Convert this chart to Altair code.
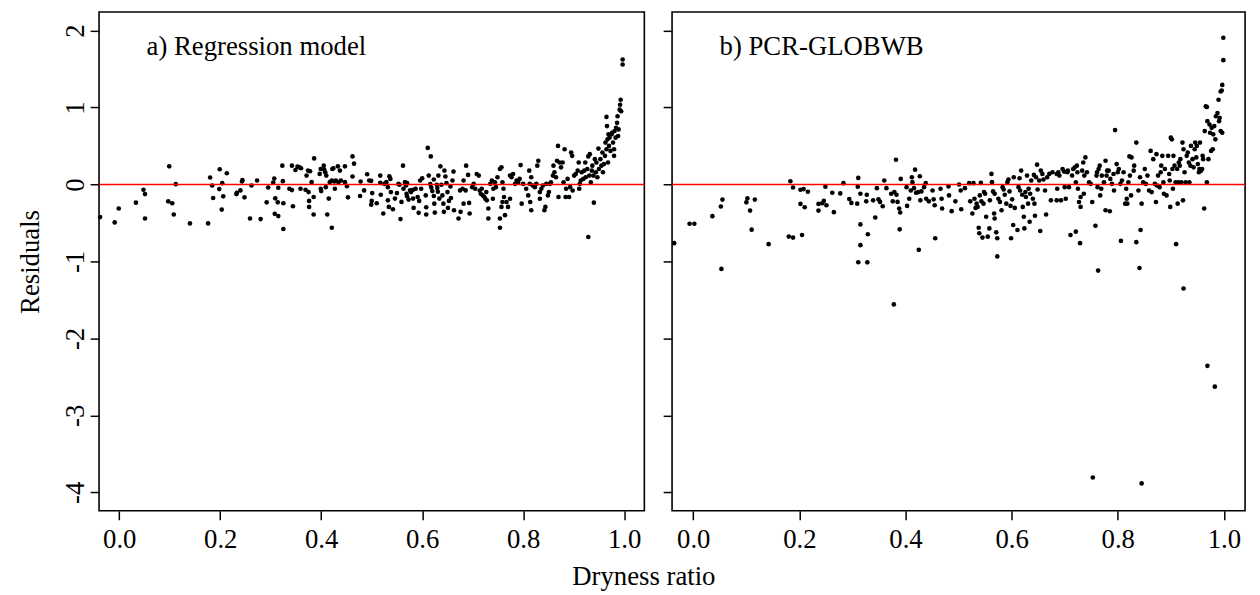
import altair as alt
import pandas as pd

FONT = "Liberation Serif"

# ---- Panel a) Regression model: (dryness ratio, residual) ----
reg_left = [[-0.038,-0.424],[-0.009,-0.493],[-0.001,-0.313],[0.033,-0.236],[0.048,-0.069],[0.051,-0.125],
    [0.051,-0.442],[0.099,0.235],[0.112,0.004],[0.097,-0.219],[0.105,-0.244],[0.108,-0.390],[0.140,-0.506],
    [0.176,-0.506],[0.180,0.090],[0.184,-0.013],[0.186,-0.176],[0.199,0.197],[0.198,-0.060],[0.204,0.017],
    [0.206,-0.154],[0.203,-0.326],[0.213,0.145],[0.232,-0.125],[0.233,-0.107],[0.240,-0.077],[0.243,0.038],
    [0.244,0.056],[0.248,-0.167],[0.259,-0.442],[0.262,-0.013],[0.273,0.051],[0.280,-0.450],[0.292,-0.232],
    [0.295,-0.039],[0.305,0.026],[0.307,0.077],[0.309,-0.180],[0.315,-0.043],[0.314,-0.232],[0.308,-0.382],
    [0.315,-0.411],[0.323,0.244],[0.324,0.043],[0.325,-0.244],[0.325,-0.578]]

reg_mid = [[0.342,0.244],[0.344,-0.283],[0.337,-0.056],[0.342,-0.073],[0.349,0.188],[0.353,0.231],[0.357,0.222],
    [0.360,0.210],[0.359,-0.056],[0.371,0.115],[0.369,-0.069],[0.375,-0.099],[0.374,0.180],[0.378,0.171],
    [0.376,-0.214],[0.376,-0.292],[0.381,0.030],[0.385,-0.163],[0.385,-0.390],[0.386,0.338],[0.397,0.137],
    [0.399,0.201],[0.399,-0.056],[0.400,-0.086],[0.405,0.244],[0.406,0.192],[0.408,0.158],[0.410,0.115],
    [0.409,-0.035],[0.412,-0.390],[0.415,-0.184],[0.417,0.030],[0.421,0.051],[0.422,0.201],[0.424,0.210],
    [0.421,-0.562],[0.426,0.038],[0.427,-0.056],[0.429,0.051],[0.433,0.235],[0.434,0.030],[0.437,0.180],
    [0.439,0.051],[0.447,0.235],[0.447,0.030],[0.451,-0.022],[0.453,-0.167],[0.462,0.364],[0.465,0.270],
    [0.462,0.103],[0.477,-0.150],[0.478,0.038],[0.485,-0.077],[0.491,0.132],[0.495,0.051],[0.499,0.047],
    [0.501,-0.112],[0.500,-0.214],[0.499,-0.262],[0.510,-0.244],[0.517,0.115],[0.517,0.021],[0.518,-0.133],
    [0.523,-0.377],[0.525,0.008],[0.529,0.030],[0.532,-0.206],[0.532,-0.035],[0.535,0.107],[0.537,0.072],
    [0.538,-0.099],[0.542,-0.322],[0.534,-0.292],[0.546,-0.184],[0.550,-0.112],[0.553,0.008],[0.555,-0.004],
    [0.557,-0.450],[0.559,-0.227],[0.562,0.244],[0.563,-0.056],[0.566,0.030],[0.568,-0.013],[0.569,-0.120],
    [0.570,0.017],[0.570,-0.154],[0.573,-0.197],[0.576,-0.077],[0.578,-0.099],[0.582,-0.184],[0.582,-0.069],
    [0.583,-0.305],[0.587,-0.056],[0.591,-0.163],[0.593,-0.369],[0.594,-0.214],[0.596,0.051],[0.598,-0.056],
    [0.600,0.081],[0.607,-0.142],[0.608,-0.296],[0.608,-0.390],[0.611,0.475],[0.617,0.364],[0.613,0.115],
    [0.616,0.004],[0.618,-0.039],[0.620,-0.086],[0.623,0.064],[0.623,-0.150],[0.624,-0.249],[0.625,-0.365],
    [0.629,-0.004],[0.630,-0.047],[0.631,-0.095],[0.632,0.115],[0.634,-0.184],[0.636,0.235],[0.638,-0.004],
    [0.640,-0.142],[0.642,-0.249],[0.643,-0.356],[0.644,0.180],[0.646,0.103],[0.648,0.017],[0.650,-0.099],
    [0.651,-0.305],[0.653,-0.214],[0.656,-0.026],[0.657,-0.176],[0.660,0.051],[0.662,0.167],[0.663,-0.335],
    [0.672,-0.442],[0.675,-0.077],[0.676,-0.356],[0.680,-0.056],[0.682,-0.249],[0.682,0.051],[0.686,-0.077],
    [0.687,0.244],[0.691,0.124],[0.693,-0.240],[0.694,-0.377]]

reg_right = [[0.699,-0.035],[0.702,0.008],[0.705,-0.056],[0.708,0.136],[0.712,0.115],[0.714,-0.078],
    [0.716,-0.121],[0.718,-0.056],[0.720,-0.142],[0.723,-0.163],[0.725,-0.185],[0.727,-0.099],[0.728,-0.206],
    [0.731,-0.313],[0.731,-0.442],[0.735,0.008],[0.738,0.051],[0.740,-0.185],[0.741,-0.056],[0.744,0.029],
    [0.746,-0.035],[0.749,0.094],[0.754,0.201],[0.757,0.222],[0.759,0.029],[0.761,-0.056],[0.762,-0.163],
    [0.759,-0.228],[0.757,-0.292],[0.754,-0.442],[0.754,-0.562],[0.764,-0.399],[0.767,-0.228],[0.770,-0.292],
    [0.774,-0.185],[0.774,0.115],[0.777,0.094],[0.780,0.136],[0.784,0.008],[0.787,0.051],[0.790,0.029],
    [0.793,0.072],[0.795,0.252],[0.797,-0.249],[0.800,0.008],[0.806,-0.056],[0.810,-0.142],[0.812,0.179],
    [0.813,0.008],[0.814,-0.228],[0.816,0.094],[0.816,-0.335],[0.819,-0.014],[0.823,-0.035],[0.826,0.008],
    [0.828,0.244],[0.830,0.308],[0.833,-0.185],[0.833,-0.099],[0.836,-0.056],[0.839,-0.014],[0.842,-0.335],
    [0.844,-0.292],[0.846,0.008],[0.849,-0.142],[0.851,-0.099],[0.853,0.008],[0.855,0.029],[0.859,0.115],
    [0.860,0.244],[0.862,0.158],[0.865,0.094],[0.867,0.308],[0.869,0.501],[0.870,-0.163],[0.872,0.286],
    [0.875,0.222],[0.878,0.286],[0.880,0.029],[0.882,0.458],[0.884,-0.163],[0.885,-0.056],[0.888,0.072],
    [0.891,-0.163],[0.893,-0.035],[0.895,0.415],[0.897,0.372],[0.898,-0.078],[0.901,0.115],[0.904,0.136],
    [0.908,0.179],[0.910,0.286],[0.911,-0.056],[0.912,0.008],[0.914,0.051],[0.916,0.158],[0.919,0.072],
    [0.921,0.179],[0.923,0.286],[0.924,0.094],[0.927,0.201],[0.929,0.364],[0.931,0.115],[0.932,0.394],
    [0.934,0.029],[0.936,0.179],[0.937,0.244],[0.939,0.115],[0.940,-0.236],[0.942,0.329],[0.944,0.158],
    [0.945,0.286],[0.947,0.094],[0.929,-0.682],[0.949,0.466],[0.950,0.201],[0.953,0.329],[0.955,0.244],
    [0.957,0.415],[0.958,0.158],[0.960,0.265],[0.962,0.372],[0.963,0.544],[0.965,0.458],[0.966,0.758],
    [0.965,0.878],[0.967,0.586],[0.968,0.286],[0.969,0.651],[0.970,0.501],[0.971,0.608],[0.973,0.436],
    [0.975,0.651],[0.976,0.672],[0.978,0.544],[0.980,0.372],[0.980,0.458],[0.981,0.693],[0.983,0.608],
    [0.984,0.736],[0.986,0.801],[0.987,0.886],[0.988,0.629],[0.989,0.715],[0.991,0.972],[0.992,1.036],
    [0.993,1.101],[0.994,0.951],[0.997,1.623],[0.997,1.559]]

# ---- Panel b) PCR-GLOBWB ----
pcr_left = [[-0.036,-0.763],[-0.007,-0.510],[0.002,-0.510],[0.036,-0.412],[0.052,-0.287],[0.055,-0.197],
    [0.053,-1.097],[0.100,-0.232],[0.102,-0.180],[0.107,-0.339],[0.110,-0.587],[0.116,-0.197],[0.142,-0.776],
    [0.180,-0.677],[0.188,-0.690],[0.183,0.042],[0.188,-0.039],[0.202,-0.069],[0.208,-0.060],[0.216,-0.095],
    [0.202,-0.253],[0.210,-0.296],[0.205,-0.656],[0.236,-0.253],[0.236,-0.339],[0.243,-0.244],[0.246,-0.214],
    [0.249,-0.030],[0.251,-0.270],[0.262,-0.108],[0.265,-0.360],[0.277,-0.116],[0.283,0.017],[0.294,-0.189],
    [0.298,-0.240],[0.309,-0.249],[0.311,0.085],[0.310,-0.030],[0.311,-1.011],[0.315,-0.120],[0.315,-0.519],
    [0.315,-0.789],[0.328,-1.012],[0.378,-1.558]]

pcr_mid = [[0.327,-0.133],[0.326,-0.219],[0.329,-0.647],[0.339,-0.206],[0.343,-0.429],[0.346,-0.048],
    [0.349,-0.193],[0.352,-0.227],[0.357,-0.283],[0.360,0.051],[0.364,-0.048],[0.373,-0.120],[0.376,-0.219],
    [0.379,-0.099],[0.382,0.321],[0.383,-0.133],[0.385,-0.227],[0.388,-0.313],[0.390,-0.364],[0.389,-0.583],
    [0.391,0.072],[0.402,-0.035],[0.403,-0.279],[0.407,-0.185],[0.410,-0.078],[0.412,0.094],[0.413,0.030],
    [0.416,-0.048],[0.418,0.192],[0.420,-0.108],[0.424,-0.099],[0.425,-0.849],[0.427,0.107],[0.428,-0.206],
    [0.430,-0.090],[0.435,-0.035],[0.438,0.017],[0.439,-0.185],[0.444,-0.219],[0.451,-0.078],[0.453,-0.193],
    [0.456,-0.699],[0.455,-0.270],[0.466,-0.056],[0.468,-0.185],[0.469,-0.313],[0.481,-0.026],[0.482,-0.142],
    [0.487,-0.347],[0.494,-0.219],[0.501,0.000],[0.504,-0.078],[0.505,-0.322],[0.512,-0.048],[0.520,0.017],
    [0.522,-0.219],[0.526,-0.377],[0.528,0.017],[0.530,-0.185],[0.532,-0.305],[0.534,-0.249],[0.536,-0.292],
    [0.538,-0.562],[0.539,-0.634],[0.540,-0.142],[0.542,0.021],[0.543,-0.219],[0.545,-0.690],[0.547,-0.249],
    [0.548,-0.099],[0.550,-0.120],[0.552,-0.420],[0.555,-0.678],[0.558,-0.571],[0.559,-0.206],[0.562,0.137],
    [0.563,0.030],[0.565,-0.090],[0.567,-0.377],[0.568,-0.442],[0.568,-0.120],[0.571,-0.622],[0.573,-0.699],
    [0.573,-0.935],[0.575,-0.185],[0.578,-0.227],[0.581,-0.335],[0.583,-0.035],[0.585,-0.065],[0.587,-0.133],
    [0.590,-0.249],[0.592,0.030],[0.594,0.064],[0.596,-0.090],[0.598,-0.279],[0.599,-0.699],[0.601,-0.193],
    [0.603,-0.527],[0.604,0.094],[0.606,-0.305],[0.611,-0.592],[0.613,-0.035],[0.615,0.081],[0.616,-0.078],
    [0.618,0.180],[0.620,-0.133],[0.621,-0.292],[0.623,-0.420],[0.624,-0.571],[0.626,-0.099],[0.627,-0.163],
    [0.629,0.115],[0.631,-0.249],[0.632,-0.056],[0.634,-0.485],[0.635,-0.120],[0.637,0.051],[0.640,-0.185],
    [0.642,0.124],[0.643,-0.249],[0.644,-0.407],[0.646,0.094],[0.648,0.257],[0.649,-0.065],[0.652,0.051],
    [0.654,-0.605],[0.655,0.180],[0.658,0.137],[0.660,0.064],[0.663,-0.078],[0.665,-0.390],[0.667,0.094],
    [0.671,0.137],[0.674,-0.206],[0.677,0.158]]

pcr_right = [[0.685,0.136],[0.688,0.158],[0.690,0.115],[0.686,-0.056],[0.685,-0.206],[0.693,-0.206],
    [0.696,0.201],[0.699,0.167],[0.700,-0.035],[0.702,-0.185],[0.705,0.158],[0.706,0.179],[0.708,-0.035],
    [0.711,-0.656],[0.714,0.115],[0.716,0.201],[0.719,0.222],[0.721,-0.613],[0.721,0.029],[0.723,0.244],
    [0.724,0.158],[0.725,-0.056],[0.727,-0.228],[0.729,-0.763],[0.730,-0.292],[0.730,-0.163],[0.733,0.179],
    [0.735,0.286],[0.736,-0.121],[0.739,0.351],[0.737,0.115],[0.742,0.158],[0.746,0.029],[0.749,0.008],
    [0.752,-0.228],[0.758,-0.536],[0.760,0.115],[0.761,0.158],[0.762,-0.035],[0.763,-1.119],[0.764,0.201],
    [0.766,0.244],[0.767,-0.142],[0.769,-0.056],[0.770,0.115],[0.774,0.029],[0.777,0.308],[0.777,-0.335],
    [0.779,0.115],[0.780,0.179],[0.783,0.179],[0.785,-0.348],[0.786,0.072],[0.789,0.008],[0.792,0.136],
    [0.793,-0.078],[0.795,0.706],[0.798,0.265],[0.800,0.158],[0.802,0.201],[0.805,0.008],[0.806,-0.733],
    [0.808,0.051],[0.811,0.158],[0.814,-0.249],[0.816,-0.056],[0.817,-0.185],[0.818,-0.249],[0.820,0.029],
    [0.822,0.364],[0.823,0.115],[0.825,-0.142],[0.826,0.351],[0.830,0.179],[0.831,0.244],[0.835,0.544],
    [0.835,-0.750],[0.839,-0.078],[0.841,-1.085],[0.842,0.094],[0.843,-0.592],[0.845,-0.249],[0.848,0.029],
    [0.851,0.201],[0.853,0.008],[0.856,0.115],[0.859,-0.078],[0.862,0.436],[0.864,-0.099],[0.867,0.329],
    [0.870,0.008],[0.872,-0.228],[0.873,0.394],[0.874,-0.014],[0.876,0.115],[0.879,-0.035],[0.881,0.158],
    [0.882,0.244],[0.884,0.372],[0.886,0.029],[0.887,-0.121],[0.889,0.201],[0.892,-0.142],[0.895,0.372],
    [0.897,0.136],[0.898,0.051],[0.899,-0.292],[0.900,0.608],[0.902,0.586],[0.903,0.201],[0.904,-0.056],
    [0.905,0.372],[0.907,0.244],[0.909,0.029],[0.910,-0.776],[0.912,0.201],[0.913,-0.249],[0.914,0.029],
    [0.915,0.286],[0.917,0.244],[0.918,0.329],[0.920,0.029],[0.922,0.544],[0.923,-0.206],[0.924,0.458],
    [0.926,0.158],[0.928,0.029],[0.930,0.372],[0.932,0.415],[0.934,0.286],[0.935,0.029],[0.937,0.244],
    [0.938,0.501],[0.941,0.329],[0.943,0.222],[0.945,0.458],[0.946,0.544],[0.948,0.351],[0.949,0.501],
    [0.951,0.265],[0.953,0.158],[0.954,0.201],[0.955,0.544],[0.957,0.179],[0.959,0.201],[0.960,0.372],
    [0.961,0.329],[0.963,-0.313],[0.964,0.693],[0.966,1.015],[0.968,1.006],[0.968,0.029],[0.969,0.822],
    [0.971,0.329],[0.973,0.779],[0.974,0.672],[0.976,0.436],[0.977,0.736],[0.979,0.458],[0.980,0.651],
    [0.982,0.758],[0.984,0.586],[0.985,0.886],[0.988,0.929],[0.990,1.101],[0.991,0.822],[0.992,0.865],
    [0.994,1.208],[0.994,0.693],[0.996,1.220],[0.997,1.293],[0.997,0.672],[0.999,1.906],[0.999,1.615]]

pcr_outliers = [[0.924,-1.352],[0.969,-2.356],[0.983,-2.627],[0.753,-3.807],[0.845,-3.884]]

x_ticks = [0.0, 0.2, 0.4, 0.6, 0.8, 1.0]
y_ticks = [-4, -3, -2, -1, 0, 1, 2]
x_domain = [-0.04, 1.04]
y_domain = [-4.24, 2.24]
panel_labels = ["a) Regression model", "b) PCR-GLOBWB"]


def frame(pairs):
    return pd.DataFrame(pairs, columns=["dryness", "residual"])


reg_df = frame(reg_left + reg_mid + reg_right)
pcr_df = frame(pcr_left + pcr_mid + pcr_right + pcr_outliers)

H = 504


def panel(df, label, width, first):
    xs = alt.Scale(domain=x_domain, nice=False, zero=False)
    ys = alt.Scale(domain=y_domain, nice=False, zero=False)
    if first:
        xaxis = alt.Axis(values=x_ticks, format=".1f", labelBaseline="alphabetic", labelPadding=28,
                         title="Dryness ratio", titleX=550, titleY=74, titleAlign="center",
                         titleBaseline="alphabetic")
        yaxis = alt.Axis(values=y_ticks, labelExpr="datum.value + ''", labelAngle=270, labelAlign="center",
                         labelBaseline="alphabetic", labelPadding=7, title="Residuals", titleAngle=270,
                         titleX=-61, titleY=H / 2, titleAlign="center", titleBaseline="alphabetic")
    else:
        xaxis = alt.Axis(values=x_ticks, format=".1f", labelBaseline="alphabetic", labelPadding=28, title=None)
        yaxis = alt.Axis(values=y_ticks, labels=False, title=None)

    pts = alt.Chart(df).mark_circle(size=22, color="black", opacity=1).encode(
        x=alt.X("dryness:Q", scale=xs, axis=xaxis),
        y=alt.Y("residual:Q", scale=ys, axis=yaxis),
    )
    rule = alt.Chart(pd.DataFrame({"zero": [0]})).mark_rule(color="#ff0000", strokeWidth=1.6).encode(
        y=alt.Y("zero:Q", scale=ys)
    )
    txt = alt.Chart(pd.DataFrame({"t": [label]})).mark_text(
        align="left", baseline="alphabetic", font=FONT, fontSize=27, color="black"
    ).encode(x=alt.value(48), y=alt.value(43), text="t:N")
    return alt.layer(pts, rule, txt).properties(width=width, height=H)


pa = panel(reg_df, panel_labels[0], 551, True)
pb = panel(pcr_df, panel_labels[1], 579, False)

chart = alt.hconcat(pa, pb, spacing=28, bounds="flush",
                    padding={"left": 8, "top": 0, "right": 5, "bottom": 5}).configure_view(
    stroke="black", strokeWidth=1.6
).configure_axis(
    grid=False, domain=False, ticks=True, tickColor="black", tickWidth=1.5, tickSize=9,
    labelFont=FONT, labelFontSize=27, labelColor="black",
    titleFont=FONT, titleFontSize=27, titleColor="black", titleFontWeight="normal"
)

chart.save("out.html", embed_options={"renderer": "svg", "actions": False})
